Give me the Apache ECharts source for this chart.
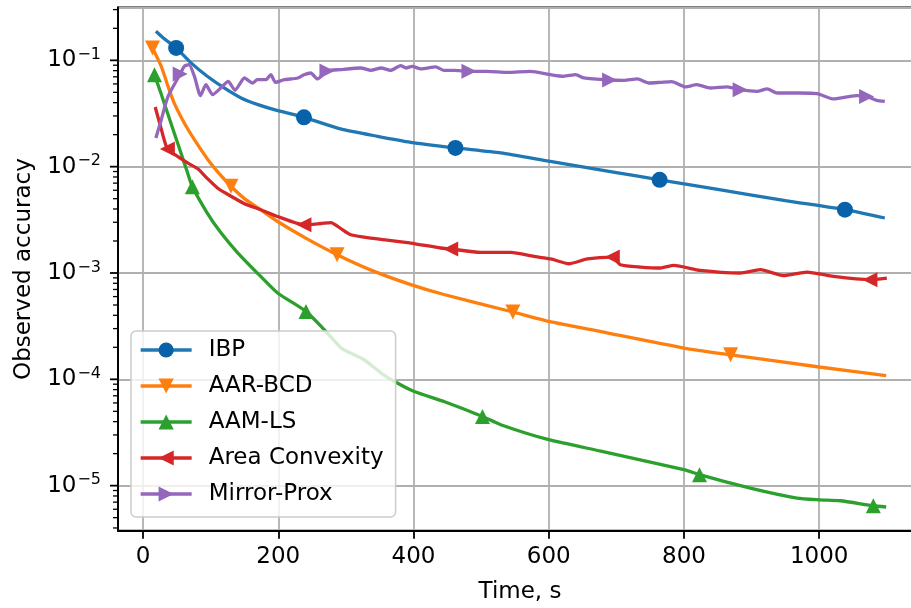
<!DOCTYPE html>
<html><head><meta charset="utf-8">
<script src="https://cdn.jsdelivr.net/npm/echarts@6/dist/echarts.min.js"></script>
<style>html,body{margin:0;padding:0;background:#fff}#c{width:911px;height:608px}</style>
</head><body><div id="c"></div>
<script>
// ---- axis ranges & ticks ----
const xMin = -37, xMax = 1152;
const yMin = 3.77e-6, yMax = 0.314;
const xTicks = [0, 200, 400, 600, 800, 1000];
const yMajorTicks = [1e-5, 1e-4, 1e-3, 1e-2, 1e-1];
const yMinorTicks = [4e-6,5e-6,6e-6,7e-6,8e-6,9e-6,
  2e-5,3e-5,4e-5,5e-5,6e-5,7e-5,8e-5,9e-5,
  2e-4,3e-4,4e-4,5e-4,6e-4,7e-4,8e-4,9e-4,
  2e-3,3e-3,4e-3,5e-3,6e-3,7e-3,8e-3,9e-3,
  2e-2,3e-2,4e-2,5e-2,6e-2,7e-2,8e-2,9e-2,
  2e-1,3e-1];
const seriesNames = ['IBP', 'AAR-BCD', 'AAM-LS', 'Area Convexity', 'Mirror-Prox'];

// ---- IBP ----
const ibpT = [19, 30, 49, 71, 95, 120, 145, 170, 194, 238, 292, 347, 396, 462, 529, 600, 700, 764, 850, 950, 1038, 1097];
const ibpAcc = [0.1875, 0.1622, 0.1309, 0.0946, 0.0708, 0.0550, 0.04426, 0.03828, 0.03436, 0.02911, 0.02265, 0.01928, 0.01694, 0.0150, 0.01346, 0.01127, 0.00881, 0.00752, 0.0061, 0.00479, 0.00394, 0.00329];
const ibpMarks = [49, 238, 462, 764, 1038];

// ---- AAR-BCD ----
const aarT = [14, 27, 37, 46, 61, 76, 96, 115, 130, 150, 175, 199, 240, 287, 340, 396, 445, 547, 600, 677, 800, 869, 1000, 1099];
const aarAcc = [0.1309, 0.0879, 0.0569, 0.0398, 0.02576, 0.01795, 0.01164, 0.00828, 0.00655, 0.00501, 0.00389, 0.00305, 0.00214, 0.001486, 0.001047, 0.000778, 0.000628, 0.0004295, 0.000351, 0.000281, 0.000197, 0.00017, 0.0001306, 0.0001081];
const aarMarks = [14, 130, 287, 547, 869];

// ---- AAM-LS ----
const aamT = [17, 27, 37, 56, 66, 73, 95, 115, 140, 174, 199, 241, 268, 293, 307, 327, 352, 376, 401, 445, 502, 529, 600, 677, 800, 823, 898, 967, 1000, 1031, 1080, 1099];
const aamAcc = [0.0733, 0.0479, 0.0309, 0.01349, 0.00871, 0.00646, 0.003664, 0.0024, 0.001549, 0.000929, 0.000649, 0.0004355, 0.000293, 0.000197, 0.0001766, 0.0001528, 0.0001146, 0.0000923, 0.0000769, 0.0000619, 0.0000448, 0.0000374, 0.00002704, 0.00002113, 0.00001413, 0.00001268, 0.00000948, 0.00000764, 0.00000736, 0.00000721, 0.00000647, 0.0000063];
const aamMarks = [17, 73, 241, 502, 823, 1080];

// ---- Area Convexity ----
const acT = [18, 25, 36, 51, 66, 81, 95, 110, 125, 150, 174, 199, 238, 263, 278, 292, 307, 337, 396, 440, 455, 499, 544, 578, 603, 630, 657, 694, 706, 736, 765, 785, 824, 883, 913, 947, 982, 1021, 1075, 1100];
const acAcc = [0.0364, 0.0251, 0.01466, 0.0125, 0.01084, 0.00955, 0.00776, 0.00631, 0.0055, 0.00449, 0.00394, 0.0034, 0.00284, 0.00292, 0.00298, 0.00263, 0.00229, 0.00213, 0.001914, 0.001718, 0.001683, 0.001563, 0.001563, 0.001432, 0.001355, 0.001222, 0.001355, 0.001413, 0.001197, 0.001138, 0.001114, 0.001178, 0.001057, 0.001, 0.001074, 0.000944, 0.001021, 0.000929, 0.000865, 0.000897];
const acMarks = [36, 238, 455, 694, 1075];

// ---- Mirror-Prox ----
const mpT = [19, 27, 37, 55, 61, 68, 76, 85, 93, 103, 115, 126, 136, 150, 162, 169, 182, 189, 196, 209, 229, 238, 248, 258, 272, 292, 322, 337, 352, 366, 381, 389, 398, 411, 433, 445, 460, 482, 509, 539, 573, 603, 622, 640, 652, 690, 711, 731, 748, 765, 782, 802, 819, 839, 864, 883, 908, 923, 938, 971, 997, 1021, 1041, 1056, 1070, 1085, 1097];
const mpAcc = [0.01862, 0.02767, 0.04581, 0.07447, 0.0879, 0.0912, 0.07079, 0.04656, 0.05902, 0.04753, 0.05495, 0.06339, 0.05224, 0.06823, 0.06124, 0.06577, 0.06577, 0.07328, 0.06209, 0.06577, 0.06823, 0.07328, 0.07603, 0.06683, 0.07943, 0.08185, 0.08472, 0.08054, 0.08472, 0.08054, 0.08913, 0.08472, 0.0879, 0.08299, 0.0867, 0.08054, 0.08054, 0.07889, 0.07889, 0.07709, 0.07889, 0.07328, 0.07079, 0.07328, 0.06823, 0.06531, 0.06486, 0.06683, 0.06124, 0.06209, 0.0631, 0.05623, 0.05902, 0.05495, 0.05623, 0.05297, 0.05105, 0.05383, 0.04932, 0.04932, 0.04864, 0.04335, 0.04529, 0.04656, 0.04581, 0.04207, 0.04111];
const mpMarks = [55, 272, 482, 690, 883, 1070];

const FONT = 'DejaVu Sans';

function build(T, A, marks) {
  return T.map(function (t, i) {
    return marks.indexOf(t) >= 0 ? [t, A[i]] : { value: [t, A[i]], symbol: 'none' };
  });
}

function lineSeries(name, T, A, marks, color, markColor, symbol, size, rotate) {
  return {
    name: name, type: 'line', data: build(T, A, marks),
    symbol: symbol, symbolSize: size, symbolRotate: rotate,
    smooth: 0.2,
    lineStyle: { color: color, width: 3.3 },
    itemStyle: { color: markColor, borderWidth: 0 },
    emphasis: { disabled: true }
  };
}

function tickSeries(values, len, width) {
  return {
    type: 'custom', silent: true, clip: false, z: 5,
    data: values.map(function (v) { return [xMin, v]; }),
    renderItem: function (params, api) {
      const p = api.coord([api.value(0), api.value(1)]);
      return { type: 'line', shape: { x1: p[0] - len, y1: p[1], x2: p[0], y2: p[1] }, style: { stroke: '#000', lineWidth: width } };
    }
  };
}

const chart = echarts.init(document.getElementById('c'), null, { renderer: 'canvas' });
chart.setOption({
  animation: false,
  backgroundColor: '#fff',
  textStyle: { fontFamily: FONT },
  grid: { left: 118, top: 7.5, width: 804, height: 523.2, outerBoundsMode: 'none', containLabel: false,
    show: true, borderColor: '#000', borderWidth: 1.8 },
  legend: {
    data: seriesNames, orient: 'vertical', left: 131, top: 331,
    itemWidth: 51, itemHeight: 19, itemGap: 12,
    padding: [7, 12, 11, 8],
    lineStyle: { width: 3.3 },
    backgroundColor: 'rgba(255,255,255,0.8)', borderColor: '#cccccc', borderWidth: 1.5, borderRadius: 5,
    textStyle: { fontSize: 23, lineHeight: 24, color: '#000', fontFamily: FONT, padding: [0, 0, 0, 12] }
  },
  xAxis: {
    type: 'value', min: xMin, max: xMax,
    name: 'Time, s', nameLocation: 'middle', nameGap: 50,
    nameTextStyle: { fontSize: 23, color: '#000', fontFamily: FONT },
    axisLine: { show: true, onZero: false, lineStyle: { color: '#000', width: 1.8 } },
    axisTick: { show: true, customValues: xTicks, length: 8, lineStyle: { color: '#000', width: 1.8 } },
    axisLabel: { customValues: xTicks, margin: 15, fontSize: 23, color: '#000', fontFamily: FONT,
      formatter: function (v) { return String(v); } },
    splitLine: { show: true, lineStyle: { color: '#b0b0b0', width: 1.8 } }
  },
  yAxis: {
    type: 'log', logBase: 10, min: yMin, max: yMax,
    name: 'Observed accuracy', nameLocation: 'middle', nameGap: 82,
    nameTextStyle: { fontSize: 23, color: '#000', fontFamily: FONT },
    axisLine: { show: true, onZero: false, lineStyle: { color: '#000', width: 1.8 } },
    axisTick: { show: false },
    axisLabel: {
      margin: 17, color: '#000', fontFamily: FONT,
      formatter: function (v) {
        const l = Math.log10(v), e = Math.round(l);
        if (Math.abs(l - e) > 0.01) return '';
        return '{b|10}{s|' + (e < 0 ? '\u2212' : '') + Math.abs(e) + '}';
      },
      rich: {
        b: { fontSize: 23, fontFamily: FONT, color: '#000' },
        s: { fontSize: 16, fontFamily: FONT, color: '#000', padding: [0, 0, 11, 1] }
      }
    },
    splitLine: { show: true, lineStyle: { color: '#b0b0b0', width: 1.8 } }
  },
  series: [
    lineSeries('IBP', ibpT, ibpAcc, ibpMarks, '#1f77b4', '#0762a9', 'circle', 16, 0),
    lineSeries('AAR-BCD', aarT, aarAcc, aarMarks, '#ff7f0e', '#ff7f0e', 'triangle', 15, 180),
    lineSeries('AAM-LS', aamT, aamAcc, aamMarks, '#2ca02c', '#2ca02c', 'triangle', 15, 0),
    lineSeries('Area Convexity', acT, acAcc, acMarks, '#d62728', '#d62728', 'triangle', 15, 90),
    lineSeries('Mirror-Prox', mpT, mpAcc, mpMarks, '#9467bd', '#9467bd', 'triangle', 15, -90),
    tickSeries(yMajorTicks, 8, 1.8),
    tickSeries(yMinorTicks, 5, 1.3)
  ]
});
</script></body></html>
